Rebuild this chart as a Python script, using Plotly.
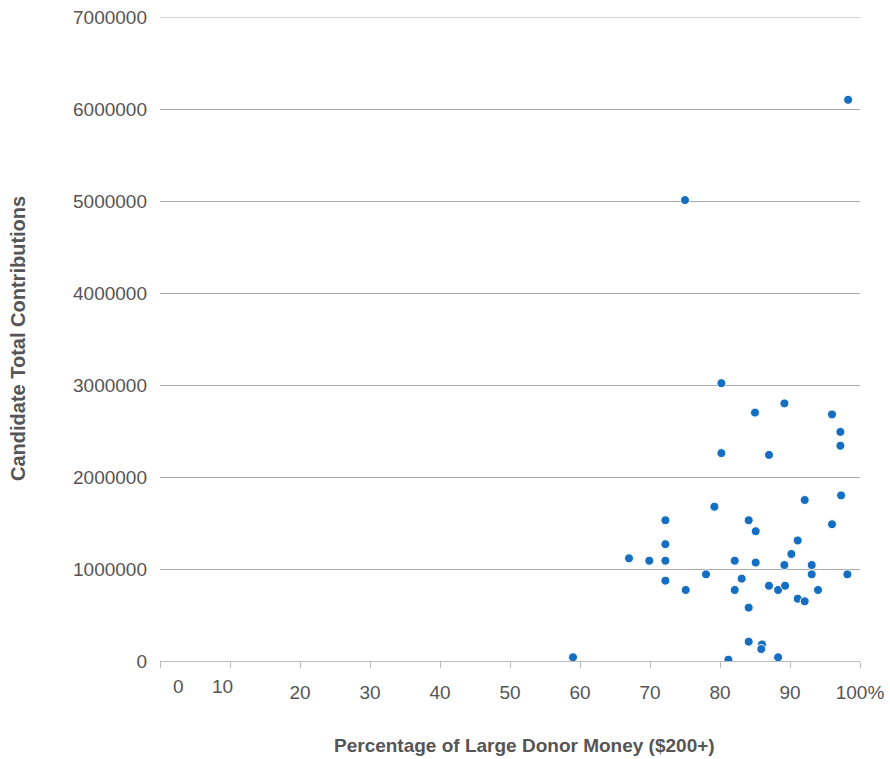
import plotly.graph_objects as go

pct_large = [59.0, 67.0, 69.9, 72.2, 72.2, 72.2, 72.2, 75.1, 78.0, 79.2,
             81.2, 82.1, 82.1, 83.1, 84.1, 84.1, 84.1, 85.1, 85.1, 86.0,
             85.9, 87.0, 88.3, 88.3, 89.2, 89.3, 90.2, 91.1, 91.1, 92.1,
             92.1, 93.1, 93.1, 94.0, 96.0, 97.3, 98.2,
             80.2, 85.0, 89.2, 96.0, 97.2, 97.2, 80.2, 87.0, 75.0, 98.3]
total_contrib = [40000, 1116000, 1090000, 1530000, 1270000, 1090000, 873000, 772000, 942000, 1677000,
                 14000, 1090000, 772000, 895000, 1530000, 580000, 210000, 1410000, 1070000, 180000,
                 130000, 818000, 772000, 40000, 1043000, 818000, 1163000, 1310000, 677000, 649000,
                 1750000, 1043000, 942000, 772000, 1486000, 1800000, 942000,
                 3020000, 2700000, 2800000, 2680000, 2490000, 2340000, 2260000, 2240000, 5010000, 6100000]

x_ticks = [0, 10, 20, 30, 40, 50, 60, 70, 80, 90, 100]
x_tick_text = ["", "", "20", "30", "40", "50", "60", "70", "80", "90", "100%"]
y_ticks = [0, 1000000, 2000000, 3000000, 4000000, 5000000, 6000000, 7000000]
y_max = 7000000

font_family = "Liberation Sans, Arial, Helvetica, sans-serif"
text_color = "#555555"
tick_size = 19

fig = go.Figure()
fig.add_trace(go.Scatter(
    x=pct_large, y=total_contrib, mode="markers",
    marker=dict(size=9, color="#146ec2", line=dict(width=1, color="white")),
    hoverinfo="x+y", showlegend=False,
))

# top gridline (plotly omits the grid exactly at the range edge)
fig.add_shape(type="line", xref="paper", yref="y", x0=0, x1=1, y0=y_max, y1=y_max,
              line=dict(color="#aaaaaa", width=1), layer="below")

fig.update_layout(
    width=890, height=759,
    margin=dict(l=160, r=30, t=17, b=98, autoexpand=False),
    paper_bgcolor="white", plot_bgcolor="white",
    font=dict(family=font_family, size=tick_size, color=text_color),
    xaxis=dict(
        range=[0, 100], tickvals=x_ticks, ticktext=x_tick_text,
        showgrid=False, zeroline=False, automargin=False,
        showline=True, linecolor="#bbbbbb", linewidth=1,
        ticks="outside", ticklen=6, tickcolor="#bbbbbb", tickwidth=1,
        ticklabelstandoff=8, ticklabeloverflow="allow",
        tickfont=dict(size=tick_size, color=text_color),
    ),
    yaxis=dict(
        range=[0, y_max], tickvals=y_ticks,
        tickformat="d", automargin=False,
        showgrid=True, gridcolor="#aaaaaa", gridwidth=1,
        zeroline=False, showline=False, ticks="",
        ticklabelstandoff=12, ticklabeloverflow="allow",
        tickfont=dict(size=tick_size, color=text_color),
    ),
    annotations=[
        dict(text="0", x=2.7, y=0, xref="x", yref="paper", yanchor="top",
             yshift=-13, showarrow=False, font=dict(size=tick_size, color=text_color)),
        dict(text="10", x=8.9, y=0, xref="x", yref="paper", yanchor="top",
             yshift=-13, showarrow=False, font=dict(size=tick_size, color=text_color)),
        dict(text="<b>Percentage of Large Donor Money ($200+)</b>", x=0.52, y=0,
             xref="paper", yref="paper", yanchor="middle", yshift=-84,
             showarrow=False, font=dict(size=19, color=text_color)),
        dict(text="<b>Candidate Total Contributions</b>", x=0, y=0.5,
             xref="paper", yref="paper", xanchor="center", xshift=-142,
             textangle=-90, showarrow=False, font=dict(size=20, color=text_color)),
    ],
)

fig.write_html(
    "out.html",
    config={"displayModeBar": False},
    post_script="document.body.style.margin='0';document.body.style.overflow='hidden';",
)
